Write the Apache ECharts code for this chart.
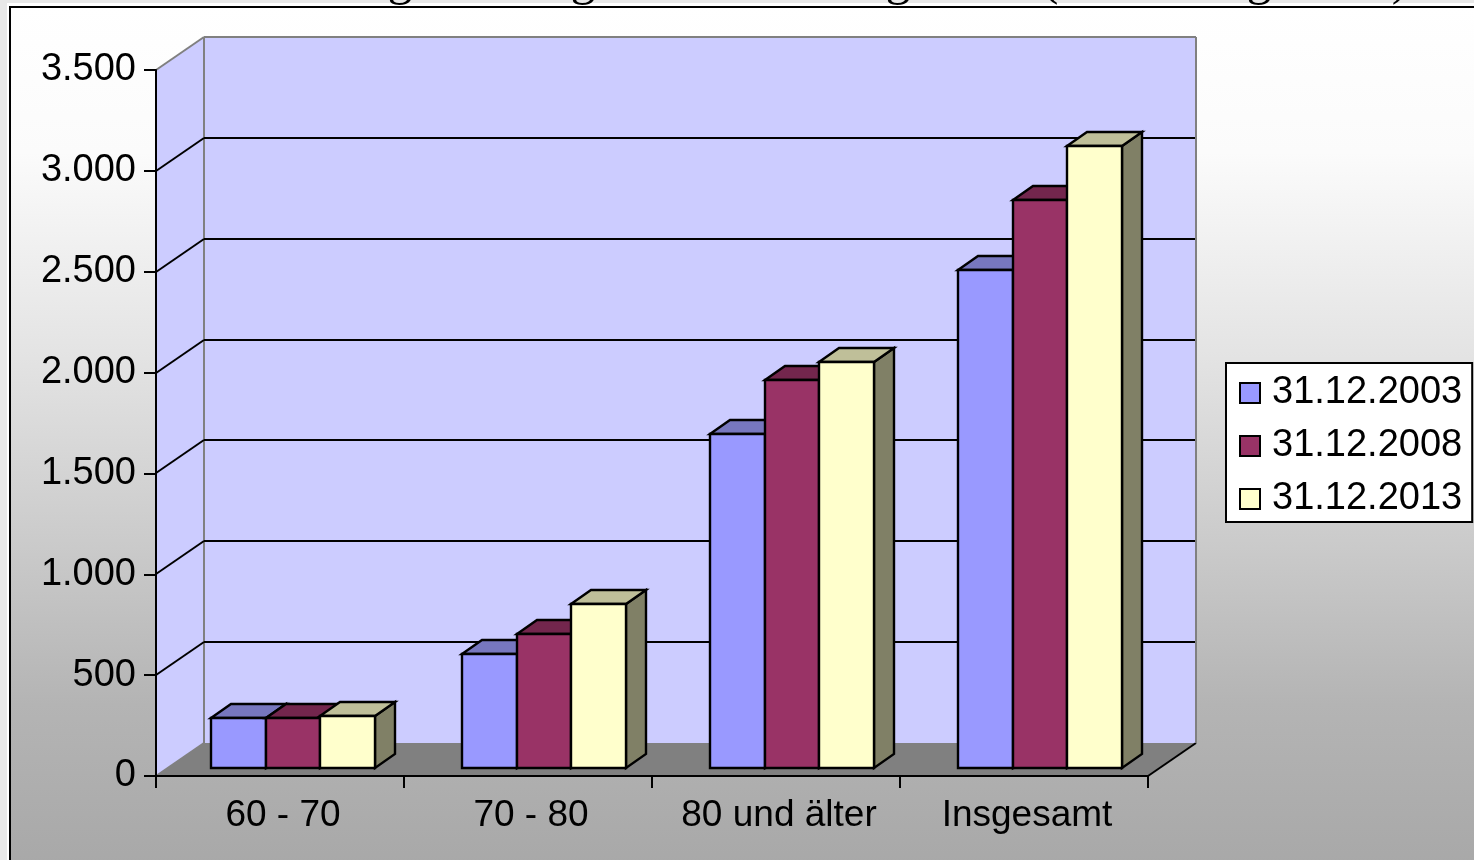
<!DOCTYPE html>
<html>
<head>
<meta charset="utf-8">
<style>html,body{margin:0;padding:0;background:#e8e8e8;overflow:hidden}#c{width:1474px;height:860px}</style>
<script src="https://cdn.jsdelivr.net/npm/echarts@6/dist/echarts.min.js"></script>
</head>
<body>
<div id="c"></div>
<script>
const categories = ['60 - 70', '70 - 80', '80 und älter', 'Insgesamt'];
const seriesNames = ['31.12.2003', '31.12.2008', '31.12.2013'];
const values2003 = [248, 565, 1656, 2469];
const values2008 = [248, 664, 1924, 2816];
const values2013 = [258, 813, 2013, 3084];
const yTicks = [0, 500, 1000, 1500, 2000, 2500, 3000, 3500];
const yTickLabels = ['0', '500', '1.000', '1.500', '2.000', '2.500', '3.000', '3.500'];
const titleFragments = [['g', 400], ['g', 583], ['g', 898], ['(', 1050], ['g', 1259], [')', 1400]];

const frontColors = ['#9999ff', '#993366', '#ffffcc'];
const topColors = ['#7777bf', '#73264d', '#bfbf99'];
const sideColors = ['#7373bf', '#73264d', '#808066'];

const WALL_DX = 48, WALL_DY = -33;
const BAR_DX = 20, BAR_DY = -14;
const PLANE_DY = -8, BAR_RATIO = 0.2205;
const GROUP_SHIFTS = [13, 16, 16, 16];
const BAR_LW = 2.4;
const FONT = '"Liberation Sans", Arial, sans-serif';

const chart = echarts.init(document.getElementById('c'), null, {renderer: 'canvas'});

function poly(points, fill, stroke, lw) {
  return {type: 'polygon', shape: {points},
    style: {fill, stroke: stroke || null, lineWidth: lw || 0, lineJoin: 'miter'}};
}
function seg(x1, y1, x2, y2, stroke, lw) {
  return {type: 'line', shape: {x1, y1, x2, y2}, style: {stroke, lineWidth: lw, fill: null}};
}

function renderWalls(params, api) {
  const v = api.value(0);
  const cs = params.coordSys;
  const y = Math.round(api.coord([0, v])[1]);
  const xl = cs.x, xr = cs.x + cs.width, yTop = cs.y, yBase = cs.y + cs.height;
  const children = [];
  if (v === 0) {
    children.push(poly([[xl, yTop], [xl + WALL_DX, yTop + WALL_DY], [xl + WALL_DX, yBase + WALL_DY], [xl, yBase]], '#ccccff'));
    children.push(poly([[xl + WALL_DX, yTop + WALL_DY], [xr + WALL_DX, yTop + WALL_DY], [xr + WALL_DX, yBase + WALL_DY], [xl + WALL_DX, yBase + WALL_DY]], '#ccccff'));
    children.push(poly([[xl, yBase], [xl + WALL_DX, yBase + WALL_DY], [xr + WALL_DX, yBase + WALL_DY], [xr, yBase]], '#808080'));
    children.push(seg(xl, yBase, xl + WALL_DX, yBase + WALL_DY, '#808080', 2));
    children.push(seg(xr, yBase, xr + WALL_DX, yBase + WALL_DY, '#000', 2));
    children.push(seg(xl + WALL_DX, yTop + WALL_DY, xl + WALL_DX, yBase + WALL_DY, '#808080', 2));
    children.push(seg(xr + WALL_DX, yTop + WALL_DY, xr + WALL_DX, yBase + WALL_DY, '#808080', 2));
  } else if (v === 3500) {
    children.push(seg(xl, y, xl + WALL_DX, y + WALL_DY, '#808080', 2));
    children.push(seg(xl + WALL_DX, y + WALL_DY, xr + WALL_DX, y + WALL_DY, '#808080', 2));
  } else {
    children.push(seg(xl, y, xl + WALL_DX, y + WALL_DY, '#000', 2));
    children.push(seg(xl + WALL_DX, y + WALL_DY, xr + WALL_DX - 1, y + WALL_DY, '#000', 2));
  }
  return {type: 'group', children};
}

function makeBarRenderer(j) {
  return function (params, api) {
    const i = api.value(0), v = api.value(1);
    const top = api.coord([i, v]);
    const base = api.coord([i, 0]);
    const w = api.size([1, 0])[0] * BAR_RATIO;
    const x0 = Math.round(top[0] + GROUP_SHIFTS[i] + (j - 1.5) * w), x1 = Math.round(top[0] + GROUP_SHIFTS[i] + (j - 0.5) * w);
    const yT = Math.round(top[1] + PLANE_DY), yB = Math.round(base[1] + PLANE_DY);
    return {type: 'group', children: [
      poly([[x1, yT], [x1 + BAR_DX, yT + BAR_DY], [x1 + BAR_DX, yB + BAR_DY], [x1, yB]], sideColors[j], '#000', BAR_LW),
      poly([[x0, yT], [x0 + BAR_DX, yT + BAR_DY], [x1 + BAR_DX, yT + BAR_DY], [x1, yT]], topColors[j], '#000', BAR_LW),
      poly([[x0, yT], [x1, yT], [x1, yB], [x0, yB]], frontColors[j], '#000', BAR_LW)
    ]};
  };
}

const bgStops = [
  {offset: 0, color: '#ffffff'}, {offset: 0.17, color: '#fbfbfb'}, {offset: 0.4, color: '#e4e4e4'},
  {offset: 0.62, color: '#cbcbcb'}, {offset: 0.81, color: '#b4b4b4'}, {offset: 1, color: '#a8a8a8'}
];

const barData = [values2003, values2008, values2013];

chart.setOption({
  animation: false,
  backgroundColor: '#e8e8e8',
  textStyle: {fontFamily: FONT},
  graphic: [
    {type: 'rect', z: -20, shape: {x: 7, y: 3, width: 1467, height: 857}, style: {fill: '#ffffff'}},
    {type: 'rect', z: -19, shape: {x: 10, y: 7, width: 1470, height: 860},
      style: {fill: new echarts.graphic.LinearGradient(0, 0, 0, 1, bgStops), stroke: '#000', lineWidth: 2}}
  ].concat(titleFragments.map(f => ({
    type: 'text', z: 50, x: f[1], y: 6,
    style: {text: f[0], fill: '#000', font: '50px "Liberation Serif", serif', textAlign: 'center', textVerticalAlign: 'bottom'}
  }))),
  grid: {left: 156, right: 326, top: 70, bottom: 84},
  legend: {
    orient: 'vertical', left: 1226, top: 363,
    padding: [11, 10, 4, 13],
    backgroundColor: '#fff', borderColor: '#000', borderWidth: 2,
    itemWidth: 20, itemHeight: 20, itemGap: 15,
    icon: 'rect',
    itemStyle: {borderColor: '#000', borderWidth: 2},
    textStyle: {fontSize: 38, lineHeight: 38, color: '#000', fontFamily: FONT, padding: [0, 0, 0, 7]},
    data: seriesNames
  },
  xAxis: {
    type: 'category', data: categories, z: 5,
    axisLine: {lineStyle: {color: '#000', width: 2}},
    axisTick: {show: true, alignWithLabel: false, length: 12, lineStyle: {color: '#000', width: 2}},
    axisLabel: {fontSize: 37, color: '#000', margin: 21, interval: 0, fontFamily: FONT, padding: [0, 0, 0, 6]},
    splitLine: {show: false}
  },
  yAxis: {
    type: 'value', min: 0, max: 3500, interval: 500, z: 5,
    axisLine: {show: true, lineStyle: {color: '#000', width: 2}},
    axisTick: {show: true, length: 12, lineStyle: {color: '#000', width: 2}},
    axisLabel: {fontSize: 38, color: '#000', margin: 20, fontFamily: FONT, padding: [3, 0, 0, 0],
      formatter: v => yTickLabels[yTicks.indexOf(v)]},
    splitLine: {show: false}
  },
  series: [
    {type: 'custom', name: 'Wände', silent: true, z: 1, renderItem: renderWalls,
      encode: {y: 0}, data: yTicks.map(v => [v])}
  ].concat(seriesNames.map((name, j) => ({
    type: 'custom', name, z: 3 + j, renderItem: makeBarRenderer(j),
    itemStyle: {color: frontColors[j]},
    encode: {x: 0, y: 1},
    data: barData[j].map((v, i) => [i, v])
  })))
});
</script>
</body>
</html>
